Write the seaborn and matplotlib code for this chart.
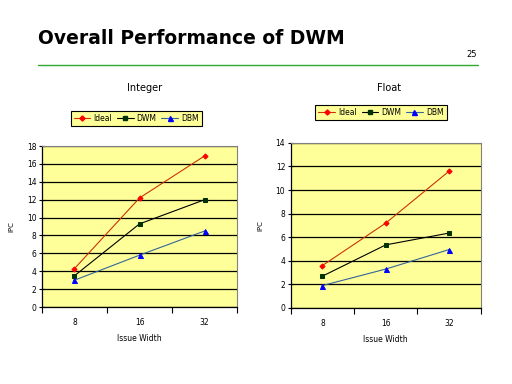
import matplotlib
matplotlib.use("Agg")
import matplotlib.pyplot as plt
import seaborn as sns
import pandas as pd
from matplotlib.lines import Line2D

issue_width = ["8", "16", "32"]
series = ["Ideal", "DWM", "DBM"]
int_ideal = [4.3, 12.2, 16.9]
int_dwm = [3.5, 9.3, 12.0]
int_dbm = [3.0, 5.8, 8.5]
flt_ideal = [3.6, 7.2, 11.6]
flt_dwm = [2.7, 5.35, 6.35]
flt_dbm = [1.9, 3.3, 4.95]

line_colors = {"Ideal": "#CC3300", "DWM": "#000000", "DBM": "#336699"}
marker_colors = {"Ideal": "#FF0000", "DWM": "#003300", "DBM": "#0000FF"}
markers = {"Ideal": "D", "DWM": "s", "DBM": "^"}
msizes = {"Ideal": 2.6, "DWM": 3.4, "DBM": 3.6}

sns.set_theme(style="white")
plt.rcParams["font.family"] = ["DejaVu Sans"]
plt.rcParams["text.color"] = "black"
plt.rcParams["axes.labelcolor"] = "black"
plt.rcParams["xtick.color"] = "black"
plt.rcParams["ytick.color"] = "black"

fig = plt.figure(figsize=(5.12, 3.84), dpi=100)
fig.patch.set_facecolor("white")

def make_df(vals):
    rows = []
    for s, v in zip(series, vals):
        for x, y in zip(issue_width, v):
            rows.append({"Issue Width": x, "IPC": y, "Series": s})
    return pd.DataFrame(rows)

def draw(ax, df, ymax, legend_xy):
    ax.set_facecolor("#FFFF99")
    for s in series:
        sub = df[df["Series"] == s]
        sns.lineplot(data=sub, x="Issue Width", y="IPC", ax=ax, color=line_colors[s],
                     linewidth=0.8, marker=markers[s], markersize=msizes[s],
                     markerfacecolor=marker_colors[s], markeredgecolor=marker_colors[s],
                     sort=False, legend=False)
    ax.set_xlim(-0.5, 2.5)
    ax.set_ylim(0, ymax)
    ax.set_yticks(range(0, ymax + 1, 2))
    ax.yaxis.grid(True, color="black", linewidth=0.9)
    ax.set_axisbelow(True)
    ax.set_xticks([0, 1, 2])
    ax.set_xticklabels(issue_width)
    ax.set_xticks([-0.5, 0.5, 1.5, 2.5], minor=True)
    ax.tick_params(axis="x", which="major", length=0, labelsize=5.5, pad=8)
    ax.tick_params(axis="x", which="minor", length=4, width=0.8, direction="out", bottom=True, color="black")
    ax.tick_params(axis="y", which="major", length=4, width=0.8, direction="inout", left=True, labelsize=5.5, pad=2, color="black")
    for side in ["left", "bottom"]:
        ax.spines[side].set_color("black")
        ax.spines[side].set_linewidth(0.9)
    for side in ["top", "right"]:
        ax.spines[side].set_color("#808080")
        ax.spines[side].set_linewidth(0.8)
    ax.set_xlabel("Issue Width", fontsize=5.5, labelpad=5)
    ax.set_ylabel("IPC", fontsize=5, labelpad=9)
    handles = [Line2D([0], [0], color=line_colors[s], lw=0.8, marker=markers[s], markersize=msizes[s],
                      markerfacecolor=marker_colors[s], markeredgecolor=marker_colors[s]) for s in series]
    leg = fig.legend(handles, series, loc="center", bbox_to_anchor=legend_xy, ncol=3, fontsize=5.5,
                     frameon=True, fancybox=False, handlelength=2.2, columnspacing=0.6, handletextpad=0.4,
                     borderpad=0.4)
    leg.get_frame().set_facecolor("#FFFF99")
    leg.get_frame().set_edgecolor("black")
    leg.get_frame().set_linewidth(0.8)
    leg.get_frame().set_alpha(1)

ax1 = fig.add_axes([0.082, 0.2005, 0.381, 0.419])
draw(ax1, make_df([int_ideal, int_dwm, int_dbm]), 18, (0.266, 0.691))
ax2 = fig.add_axes([0.568, 0.198, 0.371, 0.43])
draw(ax2, make_df([flt_ideal, flt_dwm, flt_dbm]), 14, (0.744, 0.707))

fig.text(0.283, 0.771, "Integer", fontsize=7, ha="center", va="center")
fig.text(0.760, 0.771, "Float", fontsize=7, ha="center", va="center")
fig.text(0.074, 0.901, "Overall Performance of DWM", fontsize=13.5, fontweight="bold", ha="left", va="center")
fig.text(0.910, 0.857, "25", fontsize=6, ha="left", va="center")
fig.add_artist(Line2D([0.074, 0.934], [0.831, 0.831], color="#2EA82E", lw=1.0, transform=fig.transFigure))

fig.savefig("out.png", dpi=100, facecolor="white")
